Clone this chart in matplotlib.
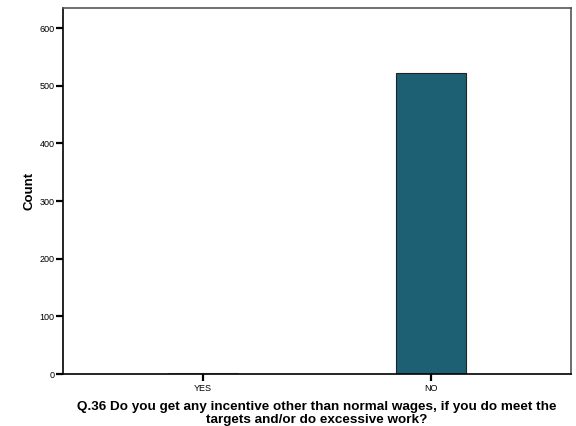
import matplotlib
matplotlib.use("Agg")
import matplotlib.pyplot as plt

categories = ["YES", "NO"]
counts = [1, 523]

plt.rcParams['font.family'] = ['Liberation Sans', 'DejaVu Sans']

fig = plt.figure(figsize=(5.76, 4.26), dpi=100)
ax = fig.add_axes([63/576, 52/426, 508/576, 366/426])

x = list(range(len(categories)))
ax.bar(x, counts, width=0.307, color="#1d5f73", edgecolor=["#999999", "#222222"], linewidth=0.8)

ax.set_xlim(-0.614, 1.614)
ax.set_ylim(0, 635)
ax.set_yticks([0, 100, 200, 300, 400, 500, 600])
ax.set_xticks(x)
ax.set_xticklabels(categories)
ax.tick_params(axis="both", direction="out", length=5, width=1.6, labelsize=6.5, color="black")
ax.tick_params(axis="y", pad=1)
ax.tick_params(axis="x", pad=2)

for side in ("top", "right"):
    ax.spines[side].set_color("#555555")
    ax.spines[side].set_linewidth(1.2)
for side in ("bottom", "left"):
    ax.spines[side].set_color("black")
    ax.spines[side].set_linewidth(1.2)

ax.set_ylabel("Count", fontsize=9.5, fontweight="bold", labelpad=3)
ax.set_xlabel("Q.36 Do you get any incentive other than normal wages, if you do meet the\n"
              "targets and/or do excessive work?", fontsize=9.7, fontweight="bold",
              labelpad=6, linespacing=1.05)

fig.savefig("out.png", dpi=100)
